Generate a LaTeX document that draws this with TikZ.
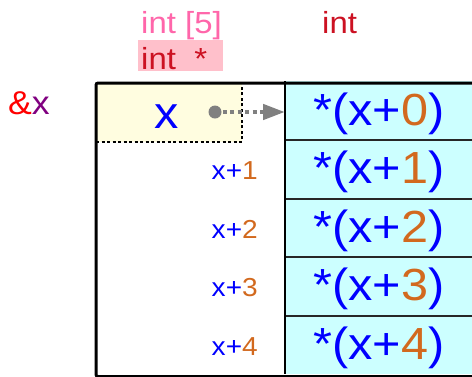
\documentclass[tikz,border=0pt]{standalone}
\usepackage{fontspec}
\setmainfont[FakeStretch=1.08]{Liberation Sans}
\usetikzlibrary{arrows.meta}
\definecolor{cellcyan}{HTML}{CCFFFF}
\definecolor{yell}{HTML}{FFFDE0}
\definecolor{pinkfill}{HTML}{FFC0CB}
\definecolor{hotpink}{HTML}{FF66AA}
\definecolor{darkred}{HTML}{CC1122}
\definecolor{numorange}{HTML}{D2691E}
\definecolor{xpurple}{HTML}{800080}
\definecolor{xblue}{HTML}{0000FF}
\definecolor{arrgray}{HTML}{808080}
\begin{document}
\begin{tikzpicture}[x=1pt,y=-1pt,
  big/.style={font=\fontsize{45}{45}\selectfont, text=xblue, inner sep=0pt},
  lbl/.style={font=\fontsize{26}{26}\selectfont, text=xblue, inner sep=0pt, anchor=base east},
  typ/.style={font=\fontsize{30.5}{30.5}\selectfont, inner sep=0pt, anchor=base west},
  cellbox/.style={fill=cellcyan, minimum width=187pt, minimum height=58.6pt, inner sep=0pt, anchor=north west},
  cellline/.style={line width=2pt, black!85}]
\useasboundingbox (0,0) rectangle (472,376);
\clip (0,0) rectangle (472,376);
% type labels
\node[typ, text=hotpink] (arrT) at (141,33) {int [5]};
\node[fill=pinkfill, anchor=north west, minimum width=85pt, minimum height=31pt, inner sep=0pt] (pbox) at (138,40) {};
\node[typ, text=darkred] (ptrT) at (141,69) {int\ \ *};
\node[typ, text=darkred] (elemT) at (322,33) {int};
\node[typ, font=\fontsize{33}{33}\selectfont] (addr) at (8,114) {\textcolor{red}{\&}\textcolor{xpurple}{x}};
% yellow name box
\node[draw, dash pattern=on 3pt off 2.5pt, line width=2.2pt, fill=yell, anchor=north west, minimum width=146pt, minimum height=58.5pt, inner sep=0pt] (xbox) at (95,82) {};
\node[big, anchor=base] (xname) at (167,128) {x};
% cells
\foreach \i in {0,...,4}{
  \node[cellbox] (c\i) at (285,{81+58.6*\i}) {};
  \node[big, anchor=base] (t\i) at (379,{81+58.6*\i+44}) {*(x+\textcolor{numorange}{\i})};
}
\foreach \i in {0,...,3}{
  \draw[cellline] (c\i.south west) -- (c\i.south east);
}
\foreach \i in {1,...,4}{
  \node[lbl] (l\i) at (258,{81+58.6*\i+40}) {x+\textcolor{numorange}{\i}};
}
\draw[line width=2.5pt] (c0.north west) -- (c4.south west);
% frame
\node[draw, line width=3pt, rounded corners=2pt, anchor=north west, minimum width=420pt, minimum height=293.5pt, inner sep=0pt] (frame) at (94.5,81.5) {};
% pointer arrow
\coordinate (dotc) at (215,112);
\draw[arrgray, line width=4.5pt, dash pattern=on 4pt off 3.5pt, -{Triangle[length=22pt,width=15pt]}] (dotc) -- (dotc -| c0.west);
\node[circle, fill=arrgray, inner sep=0pt, minimum size=13pt] (dot) at (dotc) {};
\end{tikzpicture}
\end{document}
